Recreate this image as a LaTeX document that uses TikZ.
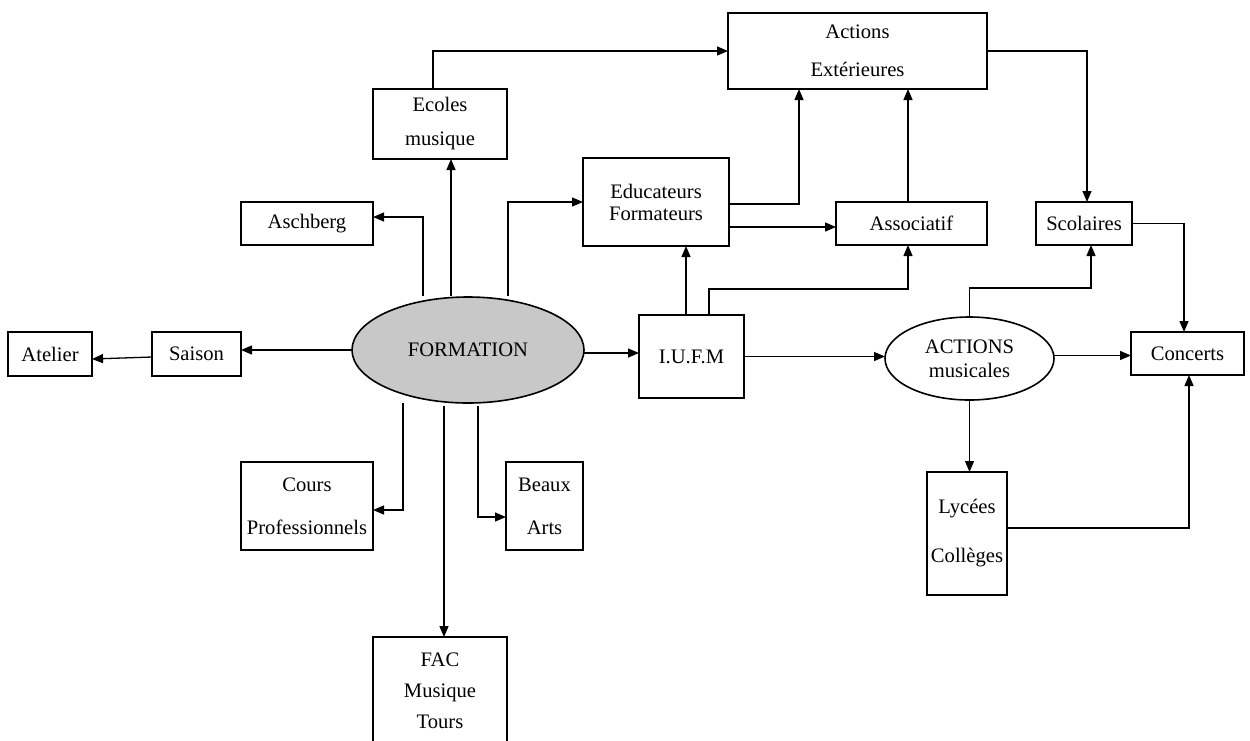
\documentclass[tikz,border=0pt]{standalone}
\usepackage{fontspec}
\setmainfont{Liberation Serif}
\usepackage{xcolor}
\usetikzlibrary{arrows.meta}
\usetikzlibrary{shapes.geometric}
\definecolor{formgray}{RGB}{200,200,200}

\begin{document}
\begin{tikzpicture}[x=1pt,y=-1pt,
				box/.style={draw,line width=1.6pt,inner sep=0pt,outer sep=0pt,align=center,
					font=\fontsize{20.6}{24}\selectfont},
				oval/.style={box,ellipse},
				arr/.style={line width=1.3pt,-{Triangle[length=11pt,width=9pt]}}]
			 \useasboundingbox (0,0) rectangle (1250,740);
			 % central node and the left branch
			 \node[oval,fill=formgray,minimum width=232pt,minimum height=106pt] (form) at (468,350) {FORMATION};
			 \node[box,minimum width=89pt,minimum height=44pt] (saison) at (196.5,354) {Saison};
			 \node[box,minimum width=84pt,minimum height=44pt] (atelier) at (50,354) {Atelier};
			 \node[box,minimum width=132pt,minimum height=43pt] (aschberg) at (307,223.5) {Aschberg};
			 \node[box,minimum width=134pt,minimum height=70pt] (ecoles) at (440,124) {Ecoles\\[10pt]musique};
			 \node[box,minimum width=132pt,minimum height=88pt] (cours) at (307,506) {Cours\\[19pt]Professionnels};
			 \node[box,minimum width=77pt,minimum height=88pt] (beaux) at (544.5,506) {Beaux\\[19pt]Arts};
			 \node[box,minimum width=134pt,minimum height=108pt] (fac) at (440,691) {FAC\\[7pt]Musique\\[7pt]Tours};
			 % right part
			 \node[box,minimum width=259pt,minimum height=76pt] (actext) at (857.5,51) {Actions\\[14pt]Extérieures};
			 \node[box,minimum width=146pt,minimum height=88pt] (educ) at (656,202) {Educateurs\\[-2pt]Formateurs};
			 \node[box,minimum width=151pt,minimum height=43pt] (assoc) at (911.5,223.5) {Associatif};
			 \node[box,minimum width=96pt,minimum height=43pt] (scol) at (1084,223.5) {Scolaires};
			 \node[box,minimum width=105pt,minimum height=83pt] (iufm) at (691.5,356.5) {I.U.F.M};
			 \node[oval,minimum width=169pt,minimum height=83pt] (actmus) at (969.5,358.5) {ACTIONS\\musicales};
			 \node[box,minimum width=113pt,minimum height=43pt] (concerts) at (1187.5,353.5) {Concerts};
			 \node[box,minimum width=80pt,minimum height=123pt] (lycees) at (967,533.5) {Lycées\\[25pt]Collèges};

			 % free ends and offset anchors
			 \coordinate (fasch) at (423,296);
			 \coordinate (fecol) at (451,296);
			 \coordinate (feduc) at (508,296);
			 \coordinate (fcours) at (403,403);
			 \coordinate (ffac) at (444,406);
			 \coordinate (fbeaux) at (478,406);
			 \coordinate (fiu) at ([yshift=-3pt]form.east);
			 \coordinate (saout) at ([yshift=-3pt]saison.west);
			 \coordinate (atin) at ([yshift=-5pt]atelier.east);
			 \coordinate (aschin) at ([yshift=6.5pt]aschberg.east);
			 \coordinate (coursin) at ([yshift=-4pt]cours.east);
			 \coordinate (beauxin) at ([yshift=-11pt]beaux.west);
			 \coordinate (ecup) at ([xshift=-7pt]ecoles.north);
			 \coordinate (edhi) at ([yshift=-2pt]educ.east);
			 \coordinate (edlo) at ([yshift=-25pt]educ.east);
			 \coordinate (extin) at ([xshift=-58.5pt]actext.south);
			 \coordinate (asup) at ([xshift=-3.5pt]assoc.north);
			 \coordinate (asin) at ([xshift=-3.5pt]assoc.south);
			 \coordinate (iua) at ([xshift=-5.5pt]iufm.north);
			 \coordinate (iub) at ([xshift=17.5pt]iufm.north);
			 \coordinate (amc) at ([yshift=3pt]actmus.east);
			 \coordinate (scin) at ([xshift=7pt]scol.south);
			 \coordinate (scup) at ([xshift=3pt]scol.north);
			 \coordinate (coup) at ([xshift=-3.5pt]concerts.north);
			 \coordinate (coin) at ([xshift=1.5pt]concerts.south);
			 \coordinate (lyout) at ([yshift=5.5pt]lycees.east);

			 % connectors
			 \draw[arr] (form.west) -- (form.west -| saison.east);
			 \draw[arr] (saout) -- (atin);
			 \draw[arr] (fasch) |- (aschin);
			 \draw[arr] (fecol) -- (fecol |- ecoles.south);
			 \draw[arr] (feduc) |- (educ.west);
			 \draw[arr] (fcours) |- (coursin);
			 \draw[arr] (ffac) -- (ffac |- fac.north);
			 \draw[arr] (fbeaux) |- (beauxin);
			 \draw[arr] (ecup) |- (actext.west);
			 \draw[arr] (edhi) -| (extin);
			 \draw[arr] (edlo) -- (edlo -| assoc.west);
			 \draw[arr] (asup) -- (asup |- actext.south);
			 \draw[arr] (iua) -- (iua |- educ.south);
			 \draw[arr] (iub) -- ++(0,-26) -| (asin);
			 \draw[arr] (fiu) -- (fiu -| iufm.west);
			 \draw[arr] (iufm.east) -- (iufm.east -| actmus.west);
			 \draw[arr] (amc) -- (amc -| concerts.west);
			 \draw[arr] (actmus.south) -- (actmus.south |- lycees.north);
			 \draw[arr] (actmus.north) -- ++(0,-29) -| (scin);
			 \draw[arr] (actext.east) -| (scup);
			 \draw[arr] (scol.east) -| (coup);
			 \draw[arr] (lyout) -| (coin);
			\end{tikzpicture}
\end{document}
